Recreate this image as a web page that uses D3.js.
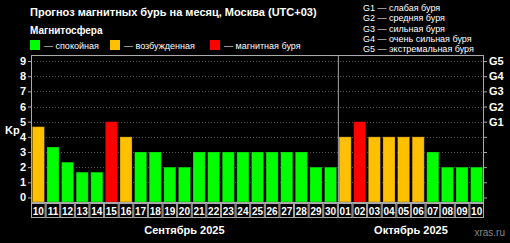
<!DOCTYPE html>
<html>
<head>
<meta charset="utf-8">
<script src="https://cdn.jsdelivr.net/npm/d3@7"></script>
<style>
  body { margin: 0; background: #000; }
  text { font-family: "Liberation Sans", Arial, sans-serif; fill: #fff; }
</style>
</head>
<body>
<div id="chart"></div>
<script>
// days and forecast Kp values
var days = ["10","11","12","13","14","15","16","17","18","19","20","21","22","23","24","25","26","27","28","29","30",
            "01","02","03","04","05","06","07","08","09","10"];
var kp = [4.67,3.33,2.33,1.67,1.67,5,4,3,3,2,2,3,3,3,3,3,3,3,3,2,2,
          4,5,4,4,4,4,3,2,2,2];
var months = [{name:"Сентябрь 2025", from:0, to:21}, {name:"Октябрь 2025", from:21, to:31}];
var kpTicks = [0,1,2,3,4,5,6,7,8,9];
var gLabels = ["G1","G2","G3","G4","G5"];
var legendItems = ["— спокойная","— возбужденная","— магнитная буря"];
var legendColors = ["#00ff00","#ffc000","#ff0000"];
var gLegend = ["G1 — слабая буря","G2 — средняя буря","G3 — сильная буря","G4 — очень сильная буря","G5 — экстремальная буря"];

var W = 510, H = 243;
var margin = {top: 55, left: 31, right: 26, bottom: 41};
var width = W - margin.left - margin.right,
    height = H - margin.top - margin.bottom;

var svg = d3.select("#chart").append("svg")
    .attr("width", W).attr("height", H)
    .style("background", "#000");

var x = d3.scaleBand().domain(d3.range(days.length)).range([margin.left, margin.left + width]).paddingInner(0.17).paddingOuter(0.09);
var xc = d3.scaleBand().domain(d3.range(days.length)).range([margin.left, margin.left + width]);
var y = d3.scaleLinear().domain([-0.3, 9.4]).range([margin.top + height, margin.top]);

var colorOf = function(v){ return v >= 5 ? legendColors[2] : (v >= 4 ? legendColors[1] : legendColors[0]); };

// title + legend
svg.append("text").attr("x", 30).attr("y", 16).style("font-weight","bold").style("font-size","11px")
  .text("Прогноз магнитных бурь на месяц, Москва (UTC+03)");
svg.append("text").attr("x", 30).attr("y", 34).style("font-weight","bold").style("font-size","10px")
  .text("Магнитосфера");
var lx = [30, 110, 210];
legendItems.forEach(function(t, i){
  svg.append("rect").attr("x", lx[i]).attr("y", 40).attr("width", 10).attr("height", 10).attr("fill", legendColors[i]);
  svg.append("text").attr("x", lx[i] + 14).attr("y", 48.5).style("font-size","9px").text(t);
});
gLegend.forEach(function(t, i){
  svg.append("text").attr("x", 363).attr("y", 11 + i*10.3).style("font-size","9px").text(t);
});

// grid
svg.append("g").selectAll("line").data(kpTicks.slice(1)).join("line")
  .attr("x1", margin.left).attr("x2", margin.left + width)
  .attr("y1", function(d){ return Math.round(y(d)) + 0.5; }).attr("y2", function(d){ return Math.round(y(d)) + 0.5; })
  .attr("stroke", "#555").attr("stroke-dasharray", "1,2");

// bars
svg.append("g").selectAll("rect").data(kp).join("rect")
  .attr("x", function(d, i){ return x(i); })
  .attr("width", x.bandwidth())
  .attr("y", function(d){ return y(d); })
  .attr("height", function(d){ return y(-0.3) - y(d); })
  .attr("fill", colorOf)
  .attr("stroke", "rgba(0,0,0,0.25)");

// frame
svg.append("rect").attr("x", margin.left + 0.5).attr("y", margin.top + 0.5)
  .attr("width", width - 1).attr("height", height).attr("fill", "none").attr("stroke", "#aaa");
svg.append("line").attr("x1", xc(21) + 0.5).attr("x2", xc(21) + 0.5)
  .attr("y1", margin.top).attr("y2", margin.top + height).attr("stroke", "#aaa");

// left axis
var yl = svg.append("g").attr("transform", "translate(" + margin.left + ",0)")
  .call(d3.axisLeft(y).tickValues(kpTicks).tickSize(3).tickPadding(2).tickFormat(d3.format("d")));
yl.select(".domain").remove();
yl.selectAll("line").attr("stroke", "#aaa");
yl.selectAll("text").style("font-size","11px").style("font-weight","bold").attr("fill","#fff");
svg.append("text").attr("x", 5).attr("y", 134).style("font-size","11px").style("font-weight","bold").text("Kp");

// right axis with G levels
var yr = svg.append("g").attr("transform", "translate(" + (margin.left + width) + ",0)")
  .call(d3.axisRight(y).tickValues(kpTicks).tickSize(3).tickPadding(2)
    .tickFormat(function(d){ return d >= 5 ? gLabels[d - 5] : ""; }));
yr.select(".domain").remove();
yr.selectAll("line").attr("stroke", "#aaa");
yr.selectAll("text").style("font-size","11px").style("font-weight","bold").attr("fill","#fff");

// day cells
var cells = svg.append("g").selectAll("g").data(days).join("g")
  .attr("transform", function(d, i){ return "translate(" + xc(i) + "," + (margin.top + height + 1) + ")"; });
cells.append("rect").attr("x", 0.5).attr("y", 0.5).attr("width", xc.bandwidth() - 1).attr("height", 14)
  .attr("fill", "none").attr("stroke", "#aaa");
cells.append("text").attr("x", xc.bandwidth()/2).attr("y", 11.5).attr("text-anchor","middle")
  .style("font-size","10px").style("font-weight","bold").text(function(d){ return d; });

// months
svg.append("g").selectAll("text").data(months).join("text")
  .attr("x", function(d){ return (xc(d.from) + xc(d.to - 1) + xc.bandwidth()) / 2; })
  .attr("y", 234).attr("text-anchor","middle")
  .style("font-size","11px").style("font-weight","bold").text(function(d){ return d.name; });

svg.append("text").attr("x", 505).attr("y", 236).attr("text-anchor","end")
  .style("font-size","10px").style("fill","#888").text("xras.ru");
</script>
</body>
</html>
